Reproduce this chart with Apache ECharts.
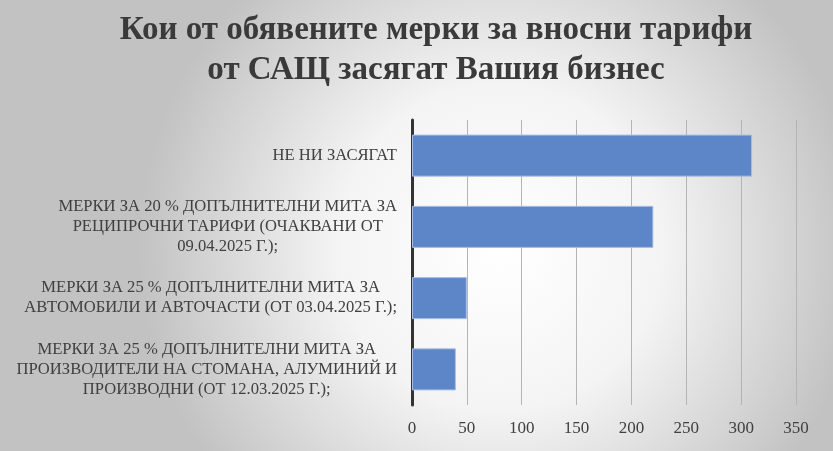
<!DOCTYPE html>
<html>
<head>
<meta charset="utf-8">
<script src="https://cdn.jsdelivr.net/npm/echarts@6/dist/echarts.min.js"></script>
<style>
html,body{margin:0;padding:0;}
#chart{width:833px;height:451px;}
</style>
</head>
<body>
<div id="chart"></div>
<script>
const titleText = 'Кои от обявените мерки за вносни тарифи\nот САЩ засягат Вашия бизнес';
const categories = [
  'НЕ НИ ЗАСЯГАТ',
  'МЕРКИ ЗА 20 % ДОПЪЛНИТЕЛНИ МИТА ЗА\nРЕЦИПРОЧНИ ТАРИФИ (ОЧАКВАНИ ОТ\n09.04.2025 Г.);',
  'МЕРКИ ЗА 25 % ДОПЪЛНИТЕЛНИ МИТА ЗА\nАВТОМОБИЛИ И АВТОЧАСТИ (ОТ 03.04.2025 Г.);',
  'МЕРКИ ЗА 25 % ДОПЪЛНИТЕЛНИ МИТА ЗА\nПРОИЗВОДИТЕЛИ НА СТОМАНА, АЛУМИНИЙ И\nПРОИЗВОДНИ (ОТ 12.03.2025 Г.);'
];
const values = [310, 220, 50, 40];
const xMin = 0, xMax = 350, xStep = 50;

const chart = echarts.init(document.getElementById('chart'));
chart.setOption({
  backgroundColor: {
    type: 'radial', x: 0.6, y: 0.55, r: 0.8,
    colorStops: [
      {offset: 0, color: '#ffffff'},
      {offset: 0.45, color: '#f4f4f4'},
      {offset: 1, color: '#c2c2c2'}
    ]
  },
  title: {
    text: titleText,
    left: 431,
    textAlign: 'center',
    top: 5,
    textStyle: {
      fontFamily: 'Liberation Serif',
      fontWeight: 'bold',
      fontSize: 33,
      lineHeight: 40,
      color: '#3a3a3a'
    }
  },
  grid: {left: 412, right: 37, top: 120, bottom: 46, containLabel: false},
  xAxis: {
    type: 'value', min: xMin, max: xMax, interval: xStep,
    axisLine: {show: false},
    axisTick: {show: false},
    splitLine: {show: true, lineStyle: {color: '#b4b4b4', width: 1}},
    axisLabel: {
      margin: 15,
      fontFamily: 'Liberation Serif',
      fontSize: 17,
      color: '#404040'
    }
  },
  yAxis: {
    type: 'category', data: categories, inverse: true,
    axisLine: {show: true, lineStyle: {color: '#333333', width: 3}},
    axisTick: {show: false},
    splitLine: {show: false},
    axisLabel: {
      margin: 15,
      formatter: function (v) {
        return v.split('\n').map(function (s) { return '{c|' + s + '}'; }).join('\n');
      },
      rich: {
        c: {
          align: 'center',
          fontFamily: 'Liberation Serif',
          fontSize: 16.6,
          lineHeight: 20,
          color: '#404040'
        }
      }
    }
  },
  series: [{
    type: 'bar',
    data: values,
    barWidth: '59%',
    itemStyle: {color: '#5d86c9', borderColor: '#a8bfe4', borderWidth: 1},
    silent: true
  }],
  animation: false
});
</script>
</body>
</html>
